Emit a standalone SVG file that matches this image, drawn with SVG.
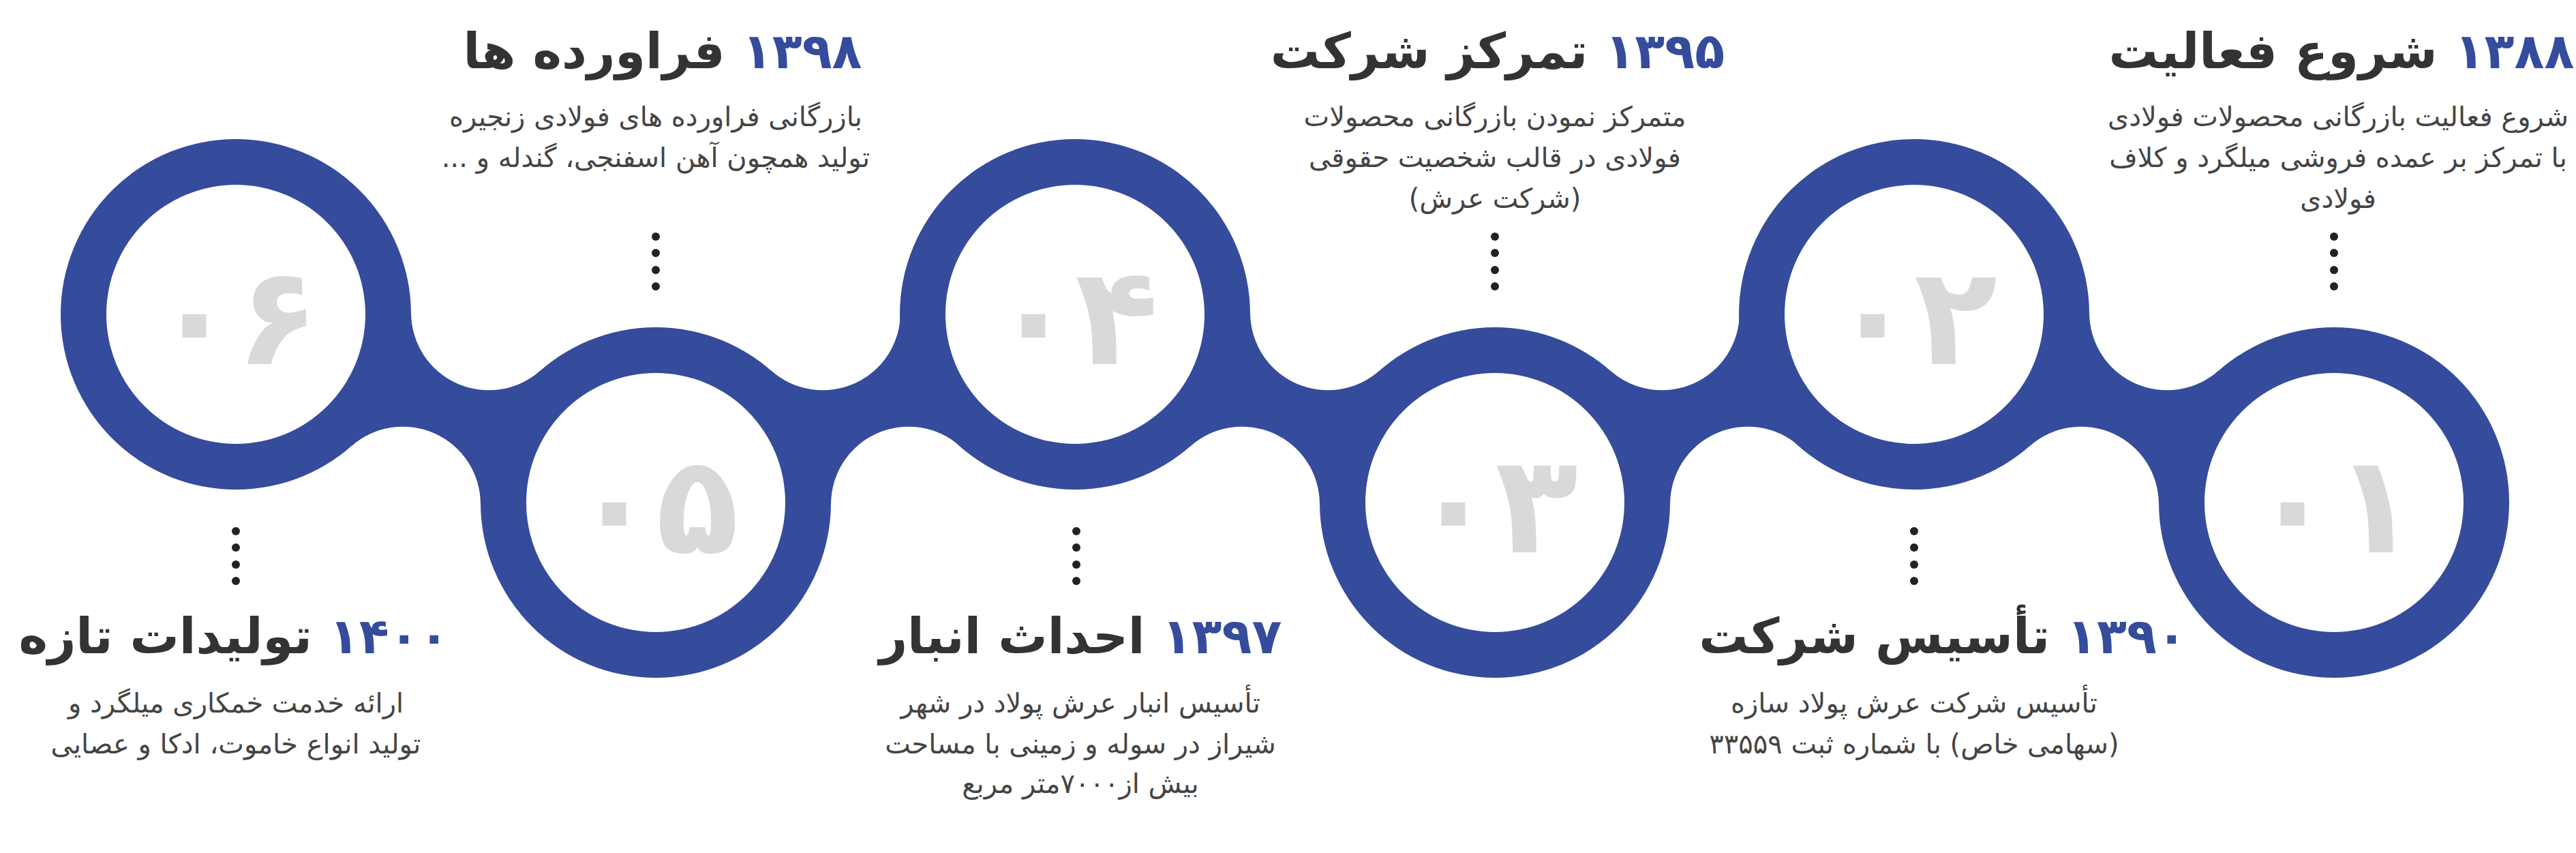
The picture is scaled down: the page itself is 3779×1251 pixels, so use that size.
<svg xmlns="http://www.w3.org/2000/svg" width="3779" height="1251" viewBox="0 0 3779 1251">
<style>
.band{fill:#354b9c}
.hole{fill:#fff}
.num{fill:#d9d9d9;font-family:"DejaVu Sans",sans-serif;font-weight:bold;font-size:200px;text-anchor:middle;direction:ltr}
.head{font-family:"DejaVu Sans",sans-serif;font-weight:bold;font-size:72px;text-anchor:middle;direction:rtl;unicode-bidi:embed}
.yr{fill:#354b9c}
.ttl{fill:#333}
.desc{fill:#444;font-family:"DejaVu Sans",sans-serif;font-size:40px;text-anchor:middle;direction:rtl;unicode-bidi:embed}
.dot{fill:#222}
</style>
<defs>
<path id="neck" d="M0,0 L257,-2.8 A114,114 0 0 0 446.7,82.6 L616,276 L359,278.8 A114,114 0 0 0 169.3,193.4 Z"/>
<g id="dots"><circle cx="0" cy="0" r="6"/><circle cx="0" cy="24" r="6"/><circle cx="0" cy="49" r="6"/><circle cx="0" cy="73" r="6"/></g>
</defs>
<g id="connectors" class="band">
<use href="#neck" transform="translate(346,461)"/>
<use href="#neck" transform="translate(962,737) scale(1,-1)"/>
<use href="#neck" transform="translate(1577,461)"/>
<use href="#neck" transform="translate(2193,737) scale(1,-1)"/>
<use href="#neck" transform="translate(2808,461)"/>
</g>
<g id="node01">
<circle class="band" cx="3424" cy="737" r="257"/><circle class="hole" cx="3424" cy="737" r="190"/>
<text class="num" x="3424" y="810">۰۱</text>
<text class="head" x="3435" y="100"><tspan class="yr">۱۳۸۸</tspan><tspan class="ttl">  شروع فعالیت</tspan></text>
<text class="desc" x="3430" y="185">شروع فعالیت بازرگانی محصولات فولادی</text>
<text class="desc" x="3430" y="245">با تمرکز بر عمده فروشی میلگرد و کلاف</text>
<text class="desc" x="3430" y="305">فولادی</text>
<use href="#dots" class="dot" transform="translate(3424,347)"/>
</g>
<g id="node02">
<circle class="band" cx="2808" cy="461" r="257"/><circle class="hole" cx="2808" cy="461" r="190"/>
<text class="num" x="2808" y="534">۰۲</text>
<use href="#dots" class="dot" transform="translate(2808,779)"/>
<text class="head" x="2850" y="958"><tspan class="yr">۱۳۹۰</tspan><tspan class="ttl"> تأسیس شرکت</tspan></text>
<text class="desc" x="2808" y="1045">تأسیس شرکت عرش پولاد سازه</text>
<text class="desc" x="2808" y="1105">(سهامی خاص) با شماره ثبت ۳۳۵۵۹</text>
</g>
<g id="node03">
<circle class="band" cx="2193" cy="737" r="257"/><circle class="hole" cx="2193" cy="737" r="190"/>
<text class="num" x="2193" y="810">۰۳</text>
<text class="head" x="2197" y="100"><tspan class="yr">۱۳۹۵</tspan><tspan class="ttl">  تمرکز شرکت</tspan></text>
<text class="desc" x="2193" y="185">متمرکز نمودن بازرگانی محصولات</text>
<text class="desc" x="2193" y="245">فولادی در قالب شخصیت حقوقی</text>
<text class="desc" x="2193" y="305">(شرکت عرش)</text>
<use href="#dots" class="dot" transform="translate(2193,347)"/>
</g>
<g id="node04">
<circle class="band" cx="1577" cy="461" r="257"/><circle class="hole" cx="1577" cy="461" r="190"/>
<text class="num" x="1577" y="534">۰۴</text>
<use href="#dots" class="dot" transform="translate(1579,779)"/>
<text class="head" x="1585" y="958"><tspan class="yr">۱۳۹۷</tspan><tspan class="ttl">   احداث انبار</tspan></text>
<text class="desc" x="1585" y="1045">تأسیس انبار عرش پولاد در شهر</text>
<text class="desc" x="1585" y="1105">شیراز در سوله و زمینی با مساحت</text>
<text class="desc" x="1585" y="1163">بیش از۷۰۰۰متر مربع</text>
</g>
<g id="node05">
<circle class="band" cx="962" cy="737" r="257"/><circle class="hole" cx="962" cy="737" r="190"/>
<text class="num" x="962" y="810">۰۵</text>
<text class="head" x="972" y="100"><tspan class="yr">۱۳۹۸</tspan><tspan class="ttl">   فراورده ها</tspan></text>
<text class="desc" x="962" y="185">بازرگانی فراورده های فولادی زنجیره</text>
<text class="desc" x="962" y="245">تولید همچون آهن اسفنجی، گندله و ...</text>
<use href="#dots" class="dot" transform="translate(962,347)"/>
</g>
<g id="node06">
<circle class="band" cx="346" cy="461" r="257"/><circle class="hole" cx="346" cy="461" r="190"/>
<text class="num" x="346" y="534">۰۶</text>
<use href="#dots" class="dot" transform="translate(346,779)"/>
<text class="head" x="343" y="958"><tspan class="yr">۱۴۰۰</tspan><tspan class="ttl">  تولیدات تازه</tspan></text>
<text class="desc" x="346" y="1045">ارائه خدمت خمکاری میلگرد و</text>
<text class="desc" x="346" y="1105">تولید انواع خاموت، ادکا و عصایی</text>
</g>
</svg>
